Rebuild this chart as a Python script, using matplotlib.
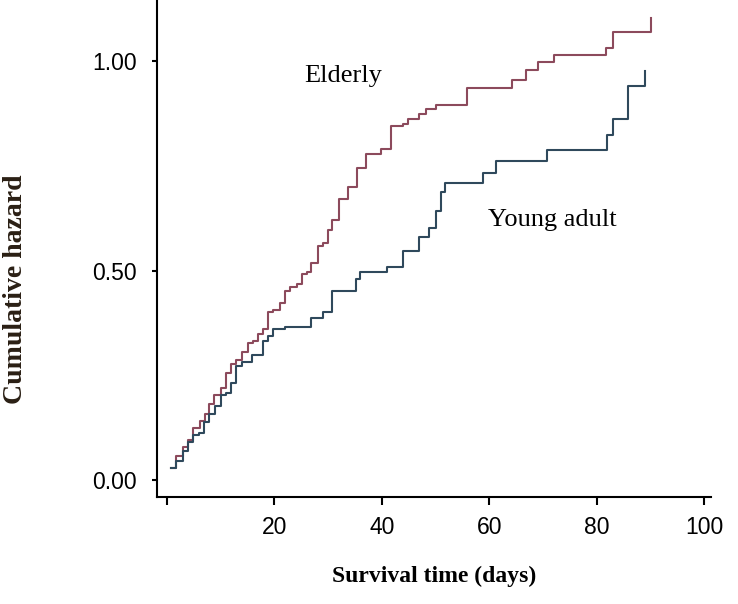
import matplotlib
matplotlib.use('Agg')
import matplotlib.pyplot as plt

#step times (days) and cumulative hazard
elderly_t = [0.7, 1.7, 2.9, 3.9, 4.8, 6.1, 7.0, 7.9, 8.8, 10.1,
             11.0, 11.9, 12.8, 14.0, 15.0, 16.0, 17.0, 17.9, 18.9, 19.8,
             21.0, 22.0, 22.9, 24.2, 25.1, 26.0, 26.9, 28.2, 29.0, 29.9,
             30.7, 32.1, 33.8, 35.3, 37.1, 39.9, 41.7, 43.9, 44.9, 47.0,
             48.2, 50.1, 55.8, 64.2, 66.9, 69.0, 72.1, 81.8, 83.1, 90.2]
elderly_h = [0.028, 0.057, 0.079, 0.095, 0.125, 0.142, 0.159, 0.181, 0.204, 0.220,
             0.255, 0.277, 0.288, 0.305, 0.328, 0.332, 0.350, 0.360, 0.402, 0.407,
             0.423, 0.451, 0.461, 0.469, 0.491, 0.496, 0.519, 0.558, 0.566, 0.598,
             0.621, 0.670, 0.699, 0.744, 0.778, 0.790, 0.845, 0.851, 0.862, 0.873,
             0.887, 0.895, 0.937, 0.955, 0.980, 0.998, 1.014, 1.032, 1.070, 1.104]

young_t = [0.7, 1.7, 3.0, 4.0, 4.9, 6.0, 6.9, 7.9, 8.9, 10.1,
           11.0, 11.9, 12.8, 13.9, 15.8, 17.9, 18.9, 19.8, 22.0, 26.8,
           29.0, 30.8, 35.2, 35.9, 40.9, 44.0, 47.0, 48.8, 50.1, 51.0,
           51.8, 58.9, 61.2, 70.7, 81.9, 83.1, 85.8, 89.0]
young_h = [0.028, 0.045, 0.070, 0.091, 0.107, 0.113, 0.139, 0.159, 0.177, 0.203,
           0.208, 0.231, 0.272, 0.281, 0.298, 0.332, 0.344, 0.362, 0.366, 0.388,
           0.402, 0.451, 0.479, 0.496, 0.508, 0.547, 0.581, 0.603, 0.642, 0.688,
           0.710, 0.733, 0.761, 0.788, 0.823, 0.862, 0.940, 0.976]

x_ticks = [0, 20, 40, 60, 80, 100]
x_ticklabels = ['', '20', '40', '60', '80', '100']
y_ticks = [0.0, 0.5, 1.0]
y_ticklabels = ['0.00', '0.50', '1.00']

fig = plt.figure(figsize=(7.38, 6.04), dpi=100)
ax = fig.add_axes([0.2127, 0.1772, 0.7507, 0.8228])

#the two hazard curves
ax.step(elderly_t, elderly_h, where='post', color='#8c4a5c', lw=1.5)
ax.step(young_t, young_h, where='post', color='#2f495c', lw=1.5)

#group names written next to the curves
ax.text(32.8, 0.964, 'Elderly', family='Liberation Serif', fontsize=19,
        ha='center', va='center')
ax.text(71.7, 0.622, 'Young adult', family='Liberation Serif', fontsize=19,
        ha='center', va='center')

ax.set_xlim(-1.86, 101.3)
ax.set_ylim(-0.04, 1.146)
ax.set_xticks(x_ticks)
ax.set_xticklabels(x_ticklabels)
ax.set_yticks(y_ticks)
ax.set_yticklabels(y_ticklabels)

ax.spines['top'].set_visible(False)
ax.spines['right'].set_visible(False)
ax.spines['left'].set_linewidth(1.5)
ax.spines['bottom'].set_linewidth(1.5)
ax.tick_params(axis='x', direction='out', length=5.8, width=1.5, labelsize=16.5, pad=8)
ax.tick_params(axis='y', direction='out', length=3.6, width=1.5, labelsize=16.5, pad=11)
for lab in ax.get_xticklabels() + ax.get_yticklabels():
    lab.set_family('Liberation Sans')

ax.set_xlabel('Survival time (days)', family='Liberation Serif',
              fontweight='bold', fontsize=17, va='center')
ax.xaxis.set_label_coords(0.5, -0.159)
ax.set_ylabel('Cumulative hazard', family='Liberation Serif',
              fontweight='bold', fontsize=20, color='#2a1f14', va='center')
ax.yaxis.set_label_coords(-0.255, 0.4185)

fig.savefig('out.png', dpi=100)
